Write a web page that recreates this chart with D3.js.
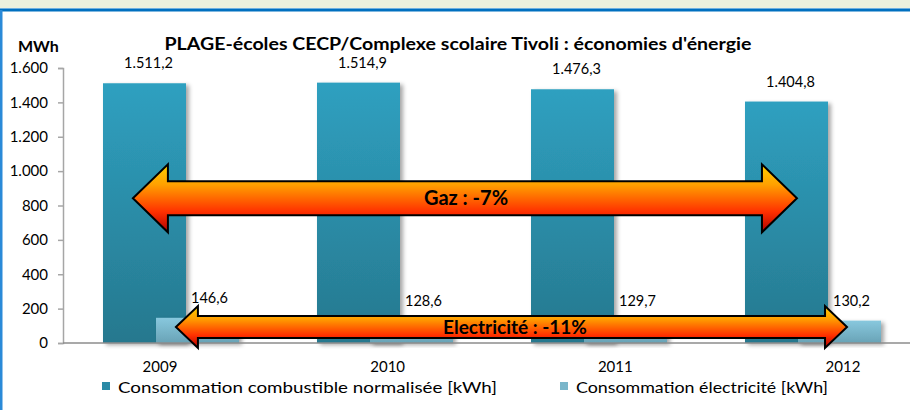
<!DOCTYPE html>
<html>
<head>
<meta charset="utf-8">
<script src="https://cdn.jsdelivr.net/npm/d3@7"></script>
<style>
  body { margin: 0; background: #fff; }
  svg { display: block; font-family: Lato, "Open Sans", sans-serif; }
</style>
</head>
<body>
<svg id="chart" width="910" height="410"></svg>
<script>
var years = ['2009', '2010', '2011', '2012'];
var combustible = [1511.2, 1514.9, 1476.3, 1404.8];
var electricite = [146.6, 128.6, 129.7, 130.2];
var yTicks = [0, 200, 400, 600, 800, 1000, 1200, 1400, 1600];
var seriesNames = ['Consommation combustible normalisée [kWh]', 'Consommation électricité [kWh]'];
var arrowLabels = ['Gaz : -7%', 'Electricité : -11%'];
var arrowLevels = [842, 93];        // MWh level of the arrow centre
var arrowFrom = [0.322, 0.523];     // in category units
var arrowTo = [3.425, 3.659];

var fmt = function(v) {
  // French style: "." thousands, "," decimals
  var s = v.toFixed(1).split('.');
  var int = s[0].replace(/\B(?=(\d{3})+(?!\d))/g, '.');
  return int + ',' + s[1];
};
var fmtTick = function(v) { return String(v).replace(/\B(?=(\d{3})+(?!\d))/g, '.'); };

var svg = d3.select('#chart');
var defs = svg.append('defs');

// frame of the slide
svg.append('rect').attr('x', 0).attr('y', 0).attr('width', 910).attr('height', 8).attr('fill', '#ebf1de');
svg.append('rect').attr('x', 0).attr('y', 8).attr('width', 910).attr('height', 1).attr('fill', '#6fb0e0');
svg.append('rect').attr('x', 0).attr('y', 9).attr('width', 910).attr('height', 2.5).attr('fill', '#0070c0');
svg.append('rect').attr('x', 0).attr('y', 10).attr('width', 2.5).attr('height', 400).attr('fill', '#2a8ad8');

var margin = {left: 64, top: 68, bottom: 343};
var plotRight = 920;

var y = d3.scaleLinear().domain([0, 1600]).range([margin.bottom, margin.top]);
var x = d3.scaleBand().domain(years).range([margin.left, plotRight]);
var xi = d3.scaleLinear().domain([0, years.length]).range([margin.left, plotRight]);
var xLabel = d3.scalePoint().domain(years).range([160, 843]);
var barW = 83, offset = 53;

// gradients
function vgrad(id, stops) {
  var g = defs.append('linearGradient').attr('id', id).attr('x1', 0).attr('y1', 0).attr('x2', 0).attr('y2', 1);
  stops.forEach(function(s) { g.append('stop').attr('offset', s[0]).attr('stop-color', s[1]); });
}
vgrad('gComb', [[0, '#2fa0c0'], [1, '#26788e']]);
vgrad('gElec', [[0, '#88c8de'], [1, '#69a3b6']]);
vgrad('gArrow', [[0, '#ffd000'], [0.3, '#ffa000'], [0.7, '#ff3000'], [1, '#b00000']]);

var shadow = defs.append('filter').attr('id', 'sh').attr('x', '-10%').attr('y', '-10%').attr('width', '130%').attr('height', '130%');
shadow.append('feDropShadow').attr('dx', 3).attr('dy', 2).attr('stdDeviation', 2).attr('flood-color', '#000').attr('flood-opacity', 0.35);

// gridlines
svg.append('g').selectAll('line').data(yTicks.slice(1)).enter().append('line')
  .attr('x1', 58).attr('x2', 910)
  .attr('y1', function(d) { return y(d); }).attr('y2', function(d) { return y(d); })
  .attr('stroke', '#a6a6a6').attr('stroke-width', 1.5).attr('filter', 'url(#sh)');

// y axis
var yAxis = d3.axisLeft(y).tickValues(yTicks).tickSize(5).tickFormat(fmtTick);
var ya = svg.append('g').attr('transform', 'translate(63,0)').call(yAxis);
ya.select('.domain').attr('stroke', '#a6a6a6').attr('stroke-width', 1.5);
ya.selectAll('.tick line').attr('stroke', '#a6a6a6').attr('stroke-width', 1.5);
ya.selectAll('.tick text').attr('font-size', 15).attr('fill', '#000').attr('x', -15).attr('font-family', 'Lato');

// bars
var comb = years.map(function(d, i) { return {year: d, v: combustible[i]}; });
var elec = years.map(function(d, i) { return {year: d, v: electricite[i]}; });
var gx = function(d) { return x(d.year) + (x.bandwidth() - barW - offset) / 2; };

svg.append('g').selectAll('rect').data(comb).enter().append('rect')
  .attr('x', gx).attr('y', function(d) { return y(d.v); })
  .attr('width', barW).attr('height', function(d) { return y(0) - y(d.v); })
  .attr('fill', 'url(#gComb)').attr('filter', 'url(#sh)');

svg.append('g').selectAll('rect').data(elec).enter().append('rect')
  .attr('x', function(d) { return gx(d) + offset; }).attr('y', function(d) { return y(d.v); })
  .attr('width', barW).attr('height', function(d) { return y(0) - y(d.v); })
  .attr('fill', 'url(#gElec)').attr('filter', 'url(#sh)');

// x axis line
svg.append('line').attr('x1', 63).attr('x2', 910).attr('y1', y(0)).attr('y2', y(0))
  .attr('stroke', '#8c8c8c').attr('stroke-width', 1.5);

// value labels
svg.append('g').selectAll('text').data(comb).enter().append('text')
  .attr('x', function(d) { return gx(d) + barW / 2 + 4; })
  .attr('y', function(d) { return y(d.v) - 15; })
  .attr('text-anchor', 'middle').attr('font-size', 14.5)
  .text(function(d) { return fmt(d.v); });

svg.append('g').selectAll('text').data(elec).enter().append('text')
  .attr('x', function(d) { return gx(d) + offset + 35; })
  .attr('y', function(d) { return y(d.v) - 15; })
  .attr('font-size', 14.5)
  .text(function(d) { return fmt(d.v); });

// category labels
svg.append('g').selectAll('text').data(years).enter().append('text')
  .attr('x', function(d) { return xLabel(d); }).attr('y', 372)
  .attr('text-anchor', 'middle').attr('font-size', 15)
  .text(function(d) { return d; });

// double arrows
var heads = [{hh: 34, sh: 17, hl: 35, fs: 20}, {hh: 21, sh: 11, hl: 22, fs: 19}];
arrowLabels.forEach(function(lbl, i) {
  var cy = y(arrowLevels[i]), x0 = xi(arrowFrom[i]), x1 = xi(arrowTo[i]);
  var h = heads[i];
  var pts = [
    [x0, cy], [x0 + h.hl, cy - h.hh], [x0 + h.hl, cy - h.sh], [x1 - h.hl, cy - h.sh],
    [x1 - h.hl, cy - h.hh], [x1, cy], [x1 - h.hl, cy + h.hh], [x1 - h.hl, cy + h.sh],
    [x0 + h.hl, cy + h.sh], [x0 + h.hl, cy + h.hh]
  ];
  svg.append('path').attr('d', 'M' + pts.join('L') + 'Z')
    .attr('fill', 'url(#gArrow)').attr('stroke', '#000').attr('stroke-width', 2)
    .attr('stroke-linejoin', 'miter');
  svg.append('text').attr('x', i === 0 ? 466 : 515).attr('y', cy + h.fs * 0.36)
    .attr('text-anchor', 'middle').attr('font-size', h.fs).attr('font-weight', 'bold')
    .text(lbl);
});

// title and unit
svg.append('text').attr('x', 458).attr('y', 50).attr('text-anchor', 'middle')
  .attr('font-size', 16.5).attr('font-weight', 'bold')
  .attr('textLength', 587).attr('lengthAdjust', 'spacingAndGlyphs')
  .text('PLAGE-écoles CECP/Complexe scolaire Tivoli : économies d\'énergie');
svg.append('text').attr('x', 18).attr('y', 52).attr('font-size', 16).attr('font-weight', 'bold').text('MWh');

// legend
var legX = [102, 560], legW = [379, 252], legFill = ['#2a8aa6', '#7ab6ca'];
seriesNames.forEach(function(n, i) {
  svg.append('rect').attr('x', legX[i]).attr('y', 382).attr('width', 8).attr('height', 8).attr('fill', legFill[i]);
  svg.append('text').attr('x', legX[i] + 16).attr('y', 393).attr('font-size', 15)
    .attr('textLength', legW[i]).attr('lengthAdjust', 'spacingAndGlyphs').text(n);
});
</script>
</body>
</html>
